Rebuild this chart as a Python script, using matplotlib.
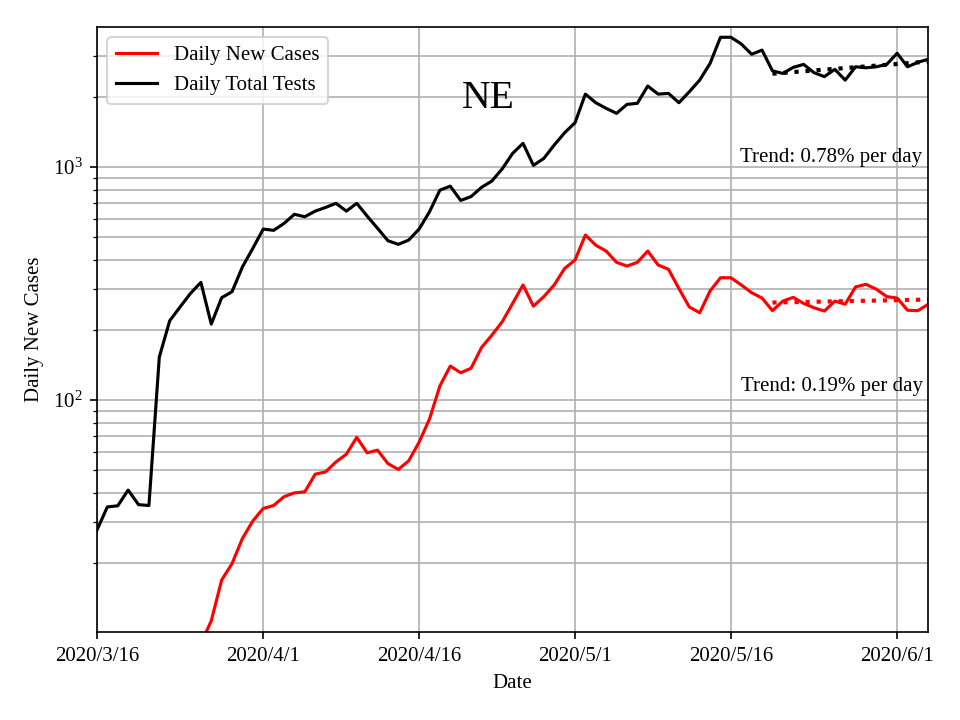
import numpy as np
import pandas as pd
import matplotlib
matplotlib.use('Agg')
import matplotlib.pyplot as plt
import matplotlib.dates as mdates
from matplotlib.ticker import FuncFormatter, LogLocator, NullFormatter

plt.rcParams['font.family'] = ['Liberation Serif', 'DejaVu Serif']
plt.rcParams['mathtext.fontset'] = 'stix'
plt.rcParams['font.size'] = 10

start_date = '2020-03-16'

# daily total tests, one value per day from 2020/3/16
tests = [27.7, 34.8, 35.2, 41.1, 35.6, 35.3, 153, 219, 251, 287,
         320, 212, 275, 292, 373, 448, 542, 535, 573, 627,
         612, 647, 671, 699, 647, 699, 616, 546, 483, 466,
         486, 542, 643, 796, 828, 719, 747, 818, 871, 983,
         1145, 1264, 1017, 1089, 1243, 1403, 1549, 2056, 1888, 1786,
         1700, 1857, 1877, 2227, 2056, 2070, 1888, 2104, 2361, 2786,
         3605, 3605, 3375, 3048, 3176, 2588, 2522, 2677, 2758, 2541,
         2443, 2626, 2361, 2693, 2667, 2693, 2758, 3078, 2693, 2817,
         2900]

# daily new cases, starting 2020/3/26
cases_start = '2020-03-26'
cases = [9, 11.3, 16.9, 19.9, 25.5, 30.3, 34.3, 35.3, 38.5, 40.0,
         40.4, 48.1, 49.2, 54.3, 58.6, 69.2, 59.4, 61.0, 53.4, 50.4,
         54.9, 66, 83, 115, 140, 131, 137, 168, 190, 217,
         260, 312, 253, 278, 312, 367, 399, 511, 462, 436,
         390, 376, 390, 436, 380, 364, 301, 251, 237, 294,
         335, 335, 312, 289, 274, 242, 266, 276, 260, 249,
         241, 266, 258, 306, 314, 299, 278, 274, 243, 242,
         258]

trend_days = 16
trend_labels = ['Trend: 0.19% per day', 'Trend: 0.78% per day']

test_dates = pd.date_range(start_date, periods=len(tests), freq='D')
case_dates = pd.date_range(cases_start, periods=len(cases), freq='D')

fig, ax = plt.subplots(figsize=(6.4, 4.8), dpi=150)
fig.subplots_adjust(left=0.101, right=0.967, bottom=0.122, top=0.9625)

ax.plot(case_dates, cases, color='red', lw=1.5, label='Daily New Cases')
ax.plot(test_dates, tests, color='black', lw=1.5, label='Daily Total Tests')

# log-linear fit over the last days
for dates, vals, col in [(case_dates, cases, 'red'), (test_dates, tests, 'black')]:
    x = np.arange(trend_days)
    logv = np.log(np.array(vals[-trend_days:], dtype=float))
    p = np.polyfit(x, logv, 1)
    ax.plot(dates[-trend_days:], np.exp(np.polyval(p, x)), ':', color=col, lw=2)

ax.set_yscale('log')
ax.set_ylim(10.1, 3990)
ax.set_xlim(test_dates[0], test_dates[-1])
ax.yaxis.set_major_locator(LogLocator(base=10))
ax.yaxis.set_minor_locator(LogLocator(base=10, subs=np.arange(2, 10)))
ax.yaxis.set_minor_formatter(NullFormatter())

ticks = pd.to_datetime(['2020-03-16', '2020-04-01', '2020-04-16', '2020-05-01', '2020-05-16', '2020-06-01'])
ax.set_xticks(ticks)
ax.xaxis.set_major_formatter(FuncFormatter(
    lambda v, pos: '%d/%d/%d' % (mdates.num2date(v).year, mdates.num2date(v).month, mdates.num2date(v).day)))

ax.grid(True, which='major', axis='x', color='#b0b0b0')
ax.grid(True, which='both', axis='y', color='#b0b0b0')

ax.set_xlabel('Date')
ax.set_ylabel('Daily New Cases')
ax.legend(loc='upper left')

ax.text(0.4705, 0.866, 'NE', transform=ax.transAxes, ha='center', va='baseline', fontsize=19)
ax.text(0.993, 0.777, trend_labels[1], transform=ax.transAxes, ha='right', va='baseline')
ax.text(0.993, 0.398, trend_labels[0], transform=ax.transAxes, ha='right', va='baseline')

plt.savefig('out.png', dpi=150)
